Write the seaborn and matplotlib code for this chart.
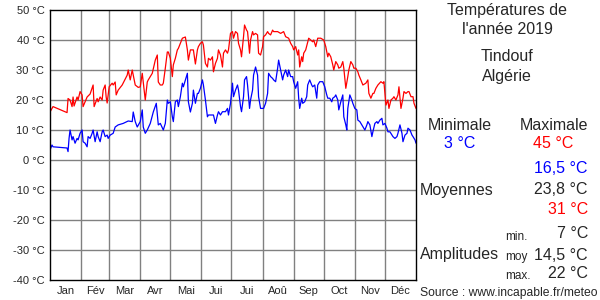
import matplotlib
matplotlib.use("Agg")
import matplotlib.pyplot as plt
import seaborn as sns
import pandas as pd

# Day of year (0 = 1 Jan) and daily temperatures
max_days = [0, 3, 17, 18, 20, 22, 23, 24, 27, 28, 30, 32, 33, 35, 37, 40, 42, 43, 44, 47,
            48, 50, 52, 53, 55, 56, 57, 59, 62, 63, 65, 66, 68, 72, 77, 78, 80, 82, 83, 85,
            88, 90, 92, 93, 95, 97, 98, 102, 105, 107, 108, 110, 112, 113, 115, 117, 118, 120, 122, 123,
            125, 127, 128, 130, 132, 135, 137, 138, 140, 143, 145, 147, 148, 150, 152, 153, 155, 157, 158, 160,
            162, 163, 165, 167, 168, 170, 172, 173, 175, 177, 178, 180, 182, 183, 185, 187, 188, 190, 191, 193,
            194, 196, 197, 199, 200, 202, 203, 205, 207, 208, 210, 212, 213, 215, 217, 218, 220, 222, 223, 227,
            230, 233, 235, 238, 240, 242, 243, 245, 247, 248, 249, 251, 252, 253, 255, 257, 258, 260, 262, 263,
            265, 267, 270, 273, 275, 277, 278, 280, 282, 283, 285, 287, 288, 290, 292, 293, 295, 297, 298, 300,
            302, 303, 305, 307, 308, 310, 312, 315, 317, 318, 320, 322, 323, 325, 327, 330, 332, 333, 335, 337,
            338, 340, 342, 343, 345, 347, 348, 350, 352, 353, 355, 357, 358, 360, 362, 363, 365]
max_temps = [16, 17.8, 15.8, 20.5, 20, 17.8, 21, 18, 21, 20, 22.8, 21.7, 17.8, 19.4, 21, 22, 24, 25, 17.8, 20.5,
             19.4, 21, 20, 23.3, 25, 21, 19, 24.4, 25.6, 25, 26, 21.7, 23.3, 25, 28.3, 30, 26.7, 30, 28.3, 25,
             24.2, 24.4, 28.9, 26, 20, 26, 26.7, 28.9, 33.3, 35, 26, 25, 25, 25.6, 30.6, 36, 36, 33.9, 27.8, 31.7,
             33.9, 36.7, 37.2, 38.9, 40.6, 41, 36.7, 33.3, 36.7, 36.7, 32, 36.7, 37.8, 38.9, 39.4, 38.3, 32.2, 31, 33.9, 33.3,
             34.4, 29.4, 32.2, 33.9, 36.7, 35, 31, 35.6, 36.7, 35.6, 36.7, 42.2, 42.8, 40.6, 42.8, 42.2, 38.9, 36.7, 34.4, 41.1,
             45, 43.3, 42.8, 35.6, 40, 42.8, 41.7, 42.2, 41.7, 35.6, 35, 37.8, 41.1, 41.7, 42.8, 42.2, 41.7, 43.3, 42.8, 42.8,
             42.2, 42.8, 41.1, 40.6, 38.9, 37.8, 36.7, 37.8, 35, 36.7, 31, 34.4, 32.8, 35.6, 36.7, 39.4, 40.6, 40, 39.4, 40,
             37.8, 40.6, 40.6, 40, 37.8, 34.4, 35.6, 34.4, 31.7, 30, 32.8, 31.7, 30.6, 31, 32.8, 30.6, 23.9, 27.8, 30, 32.8,
             31.7, 30.6, 30.6, 29.4, 28.3, 26.7, 25, 25.6, 26.7, 22.2, 20.6, 22.2, 22.2, 23.9, 25, 26.1, 25.6, 26.1, 18.3, 20,
             17.2, 20, 20.6, 21.1, 20, 21.7, 24.4, 17.2, 20.6, 22.8, 22.2, 22.8, 22.8, 21.1, 21.1, 18.9, 17.2]

min_days = [0, 2, 3, 17, 18, 19, 20, 22, 23, 25, 27, 28, 30, 32, 33, 35, 37, 38, 40, 42,
            43, 45, 47, 48, 50, 52, 53, 55, 57, 58, 60, 63, 65, 68, 73, 78, 82, 83, 85, 87,
            90, 92, 93, 95, 97, 100, 103, 106, 108, 110, 113, 115, 117, 118, 120, 122, 123, 125, 127, 128,
            130, 132, 133, 135, 137, 138, 140, 142, 143, 145, 147, 148, 150, 152, 153, 155, 157, 158, 163, 165,
            167, 168, 170, 172, 175, 177, 178, 180, 182, 183, 185, 187, 188, 190, 191, 193, 194, 196, 197, 199,
            200, 202, 203, 205, 207, 208, 210, 213, 215, 217, 218, 220, 222, 223, 225, 227, 228, 230, 232, 233,
            235, 237, 238, 240, 242, 243, 245, 247, 248, 249, 251, 252, 254, 256, 257, 259, 261, 262, 264, 266,
            267, 269, 272, 274, 276, 277, 279, 281, 282, 284, 285, 287, 288, 290, 292, 293, 295, 296, 297, 299,
            301, 302, 304, 306, 307, 309, 311, 312, 314, 316, 317, 319, 321, 322, 324, 326, 327, 329, 331, 332,
            334, 336, 337, 339, 341, 342, 344, 346, 347, 349, 351, 352, 354, 356, 357, 359, 361, 362, 364, 365]
min_temps = [3.3, 5, 4.4, 4, 2.8, 7.2, 10, 6.7, 7.8, 5.6, 7.2, 6.7, 8.9, 10, 6.1, 5.6, 4.4, 7.8, 7.2, 8.9,
             10, 6.1, 9.4, 7.8, 6.1, 9.4, 10, 7.8, 8.3, 7.2, 8.3, 8.9, 11, 11.7, 12.2, 13, 12.8, 16, 12.8, 11,
             12.8, 16.7, 11, 8.9, 10, 12.2, 16, 18.9, 11.7, 12.2, 10, 12.2, 20, 18.9, 19.4, 14.4, 12.8, 19.4, 20, 17.8,
             21.1, 25.6, 24.4, 26.7, 28.9, 19.4, 16, 18.9, 23.3, 18.9, 22.2, 22.2, 23.9, 26.7, 25, 20, 14.4, 15, 15, 12.2,
             15, 16.1, 15, 16.1, 16.1, 17.2, 15, 18.9, 25.6, 21.1, 23.3, 25, 23.3, 17.8, 16.1, 21.1, 26.7, 27.8, 25, 17.2,
             20, 23.3, 28.3, 31, 28.3, 21.1, 17.2, 17.2, 18.9, 22.2, 28.9, 27.8, 27.2, 26.7, 26.1, 30.6, 33.3, 30, 26.7, 28.3,
             30, 27.8, 30, 27.8, 27.8, 26.1, 23.9, 26.1, 20.6, 17.2, 20.6, 18.9, 19.4, 21.1, 25, 26.7, 25, 24.4, 25, 20.6,
             25, 26.1, 26.1, 24.4, 21.7, 20.6, 20.6, 19.4, 20.6, 21.1, 21.7, 20, 16.7, 19.4, 21.7, 14.4, 11.7, 10, 17.2, 21.7,
             20, 18.9, 17.2, 16.7, 13.3, 12.8, 11.7, 11.1, 10, 11.7, 12.8, 11.7, 7.8, 9.4, 12.2, 12.8, 12.2, 13.3, 13.9, 11.7,
             12.2, 10.6, 9.4, 9.4, 8.3, 7.8, 7.2, 7.8, 8.9, 11.7, 8.9, 6.1, 8.3, 8.9, 10.6, 10, 8.3, 7.8, 6.7, 5.6]

month_labels = ["Jan", "Fév", "Mar", "Avr", "Mai", "Jui", "Jui", "Aoû", "Sep", "Oct", "Nov", "Déc"]
month_lengths = [31, 28, 31, 30, 31, 30, 31, 31, 30, 31, 30, 31]
y_ticks = [-40, -30, -20, -10, 0, 10, 20, 30, 40, 50]

title_lines = ["Températures de", "l'année 2019"]
place = ["Tindouf", "Algérie"]
stat_min, stat_max = "3 °C", "45 °C"
mean_min, mean_avg, mean_max = "16,5 °C", "23,8 °C", "31 °C"
amp_min, amp_avg, amp_max = "7 °C", "14,5 °C", "22 °C"
source = "Source : www.incapable.fr/meteo"

df = pd.concat([
    pd.DataFrame({"day": max_days, "temp": max_temps, "serie": "max"}),
    pd.DataFrame({"day": min_days, "temp": min_temps, "serie": "min"}),
])

sns.set_style("white")
plt.rcParams["font.family"] = ["Liberation Sans", "DejaVu Sans"]

fig = plt.figure(figsize=(6, 3), dpi=100)
ax = fig.add_axes([50 / 600, 20 / 300, 366 / 600, 270 / 300])

bounds = [0]
for m in month_lengths:
    bounds.append(bounds[-1] + m)
for b in bounds[1:-1]:
    ax.axvline(b, color="#808080", lw=1, zorder=0)
for t in y_ticks[1:-1]:
    ax.axhline(t, color="#808080", lw=1, zorder=0)

sns.lineplot(data=df, x="day", y="temp", hue="serie", palette={"max": "#ff0000", "min": "#0000ff"},
             estimator=None, legend=False, lw=0.9, ax=ax)

ax.set_xlim(0, 365)
ax.set_ylim(-40, 50)
ax.set_yticks(y_ticks)
ax.set_yticklabels([f"{t} °C" for t in y_ticks], fontsize=8)
mids = [(bounds[i] + bounds[i + 1]) / 2 for i in range(12)]
ax.set_xticks(mids)
ax.set_xticklabels(month_labels, fontsize=8)
ax.tick_params(length=0, pad=4)
ax.set_xlabel("")
ax.set_ylabel("")
for s in ax.spines.values():
    s.set_color("black")
    s.set_linewidth(1)


def ftext(x, y, s, **kw):
    fig.text(x / 600, 1 - y / 300, s, va="center", **kw)


big = 11.5
small = 8.5
ftext(507, 10, title_lines[0], ha="center", fontsize=big)
ftext(507, 30, title_lines[1], ha="center", fontsize=big)
ftext(507, 57, place[0], ha="center", fontsize=big)
ftext(507, 77, place[1], ha="center", fontsize=big)
ftext(460, 125, "Minimale", ha="center", fontsize=big)
ftext(554, 125, "Maximale", ha="center", fontsize=big)
ftext(460, 144, stat_min, ha="center", fontsize=big, color="#0000ff")
ftext(553, 144, stat_max, ha="center", fontsize=big, color="#ff0000")
ftext(588, 168, mean_min, ha="right", fontsize=big, color="#0000ff")
ftext(420, 190, "Moyennes", ha="left", fontsize=big)
ftext(588, 189, mean_avg, ha="right", fontsize=big)
ftext(588, 209, mean_max, ha="right", fontsize=big, color="#ff0000")
ftext(505, 237, "min.", ha="left", fontsize=small)
ftext(588, 233, amp_min, ha="right", fontsize=big)
ftext(420, 255, "Amplitudes", ha="left", fontsize=big)
ftext(505, 257, "moy", ha="left", fontsize=small)
ftext(588, 255, amp_avg, ha="right", fontsize=big)
ftext(505, 276, "max.", ha="left", fontsize=small)
ftext(588, 274, amp_max, ha="right", fontsize=big)
ftext(597, 293, source, ha="right", fontsize=8.7)

fig.savefig("out.png", dpi=100)
